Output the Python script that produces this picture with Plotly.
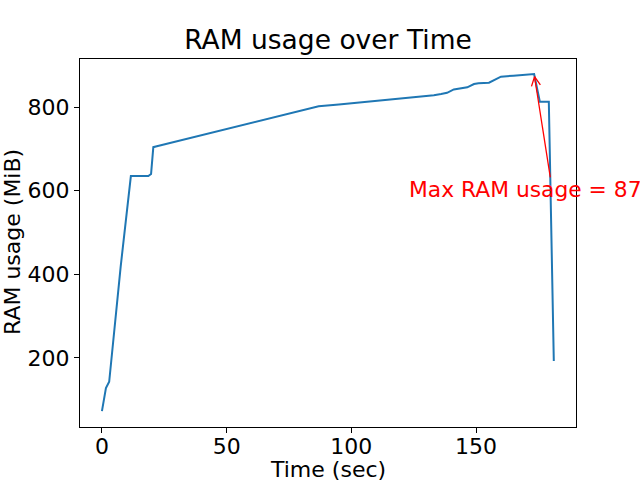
import plotly.graph_objects as go

# Data
time_sec = [0, 1.6, 2.9, 7.5, 11.6, 18.6, 19.7, 20.6, 22, 86.9, 95, 102.3, 110.3, 116,
            122.4, 128, 133.1, 136, 138.4, 141.1, 144, 146.5, 149.2, 151, 155.2, 160,
            165, 173.3, 175.6, 179.2, 181.2]
ram_mib = [73, 128, 143, 418, 635, 635, 640, 704, 706, 802, 806, 810, 815, 817,
           821.6, 824, 828, 831, 834, 842, 845, 847, 855, 857, 858, 872.6,
           875, 879, 812.7, 812.7, 193]
x_ticks = [0, 50, 100, 150]
y_ticks = [200, 400, 600, 800]

FONT = "DejaVu Sans"
W, H = 640, 480
L, R, T, B = 80, 64, 59, 53
XR = [-8.8, 190.1]
YR = [35, 914.8]
pw, ph = W - L - R, H - T - B

def to_px(x, y):
    return (L + (x - XR[0]) / (XR[1] - XR[0]) * pw,
            T + ph - (y - YR[0]) / (YR[1] - YR[0]) * ph)

def to_data(px, py):
    return (XR[0] + (px - L) / pw * (XR[1] - XR[0]),
            YR[0] + (T + ph - py) / ph * (YR[1] - YR[0]))

def page_to_paper(px, py):
    return ((px - L) / pw, (T + ph - py) / ph)

imax = max(range(len(ram_mib)), key=lambda i: ram_mib[i])
xmax, ymax = time_sec[imax], ram_mib[imax]

fig = go.Figure()
fig.add_trace(go.Scatter(x=time_sec, y=ram_mib, mode="lines",
                         line=dict(color="#1f77b4", width=2), showlegend=False,
                         hoverinfo="skip"))

# arrow (matplotlib '->' style) from text centre to the max point
tx, ty = to_px(xmax + 6.5, ymax - 247)
hx, hy = to_px(xmax, ymax)
dx, dy = hx - tx, hy - ty
n = (dx * dx + dy * dy) ** 0.5
ux, uy = dx / n, dy / n
hx, hy = hx - ux * 2.8, hy - uy * 2.8
hl, hw = 9, 4.5
bx, by = hx - ux * hl, hy - uy * hl
w1 = (bx - uy * hw, by + ux * hw)
w2 = (bx + uy * hw, by - ux * hw)
pts = [(tx, ty), (hx, hy), None, w1, (hx, hy), w2]
ax_, ay_ = [], []
for p in pts:
    if p is None:
        ax_.append(None); ay_.append(None)
    else:
        d = to_data(*p)
        ax_.append(d[0]); ay_.append(d[1])
fig.add_trace(go.Scatter(x=ax_, y=ay_, mode="lines", line=dict(color="red", width=1.3),
                         showlegend=False, hoverinfo="skip"))

fig.add_annotation(x=xmax - 50, y=ymax - 300, xref="x", yref="y",
                   text=f"Max RAM usage = {ymax:.2f} MiB", showarrow=False,
                   xanchor="left", yanchor="bottom", yshift=-5, xshift=-2,
                   font=dict(family=FONT, size=21.8, color="red"))

# axis titles placed as annotations (page pixel positions)
xt = page_to_paper(328, 469)
fig.add_annotation(x=xt[0], y=xt[1], xref="paper", yref="paper", text="Time (sec)",
                   showarrow=False, xanchor="center", yanchor="middle",
                   font=dict(family=FONT, size=22, color="black"))
yt = page_to_paper(12, 242)
fig.add_annotation(x=yt[0], y=yt[1], xref="paper", yref="paper", text="RAM usage (MiB)",
                   showarrow=False, xanchor="center", yanchor="middle", textangle=-90,
                   font=dict(family=FONT, size=22, color="black"))

axis_common = dict(showline=True, linecolor="black", linewidth=1, mirror=True,
                   ticks="outside", ticklen=5, tickwidth=1, tickcolor="black",
                   showgrid=False, zeroline=False,
                   tickfont=dict(family=FONT, size=22, color="black"))

fig.update_layout(
    width=W, height=H,
    margin=dict(l=L, r=R, t=T, b=B, autoexpand=False),
    paper_bgcolor="white", plot_bgcolor="white",
    title=dict(text="RAM usage over Time", x=(L + pw / 2) / W, xanchor="center",
               y=1 - 40 / H, yanchor="middle", yref="container",
               font=dict(family=FONT, size=26.5, color="black")),
    xaxis=dict(range=XR, tickvals=x_ticks, ticklabelstandoff=-5, **axis_common),
    yaxis=dict(range=YR, tickvals=y_ticks, **axis_common),
)
fig.write_html("out.html", config={"displayModeBar": False},
               post_script="document.body.style.margin='0';document.body.style.overflow='hidden';")
